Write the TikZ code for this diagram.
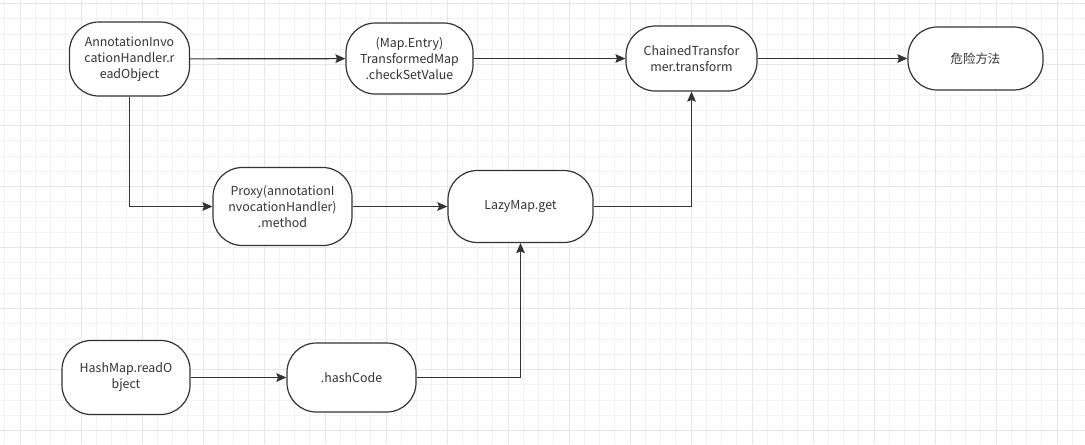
\documentclass[tikz,border=0pt]{standalone}
\usepackage{fontspec}
\setmainfont{Noto Sans CJK SC}
\usetikzlibrary{arrows.meta}
\definecolor{gminor}{HTML}{F2F2F2}
\definecolor{gmajor}{HTML}{E6E6E6}
\definecolor{ink}{HTML}{333333}
\tikzset{
  minorline/.style={draw=gminor, line width=0.75pt},
  majorline/.style={draw=gmajor, line width=0.75pt},
  boxnode/.style={draw=ink, line width=0.9pt, rounded corners=22pt, inner sep=0pt,
    align=center, text=ink, font=\fontsize{9.3}{12}\selectfont, fill=white},
  arr/.style={draw=ink, line width=0.9pt, -{Stealth[length=7.5pt,width=6.5pt,inset=1.2pt]}}
}
\begin{document}
\begin{tikzpicture}[x=0.75pt,y=-0.75pt]
\useasboundingbox (0,0) rectangle (1085,444);
\fill[white] (0,0) rectangle (1085,444);
% grid
\foreach \m in {0,...,70} {\pgfmathsetmacro\xx{4.75+15.25*\m}\draw[minorline] (\xx,0) -- (\xx,444);}
\foreach \m in {0,...,28} {\pgfmathsetmacro\yy{3.5+15.25*\m}\draw[minorline] (0,\yy) -- (1085,\yy);}
\foreach \m in {0,...,17} {\pgfmathsetmacro\xx{20+61*\m}\draw[majorline] (\xx,0) -- (\xx,444);}
\foreach \m in {0,...,7} {\pgfmathsetmacro\yy{3.5+61*\m}\draw[majorline] (0,\yy) -- (1085,\yy);}
% nodes
\node[boxnode, minimum width=120*0.75pt, minimum height=74*0.75pt] (n1) at (129.5,59) {AnnotationInvo\\cationHandler.r\\eadObject};
\node[boxnode, minimum width=127*0.75pt, minimum height=71*0.75pt] (n2) at (409.5,58.5) {(Map.Entry)\\TransformedMap\\.checkSetValue};
\node[boxnode, minimum width=131*0.75pt, minimum height=65*0.75pt] (n3) at (691.5,58.5) {ChainedTransfor\\mer.transform};
\node[boxnode, minimum width=135*0.75pt, minimum height=63*0.75pt] (n4) at (975.5,58.5) {危险方法};
\node[boxnode, minimum width=139*0.75pt, minimum height=78*0.75pt] (n5) at (282.5,206.5) {Proxy(annotationI\\nvocationHandler)\\.method};
\node[boxnode, minimum width=145*0.75pt, minimum height=72*0.75pt] (n6) at (520.5,206.5) {LazyMap.get};
\node[boxnode, minimum width=128*0.75pt, minimum height=74*0.75pt] (n7) at (126,377.5) {HashMap.readO\\bject};
\node[boxnode, minimum width=129*0.75pt, minimum height=69*0.75pt] (n8) at (351.5,377.5) {.hashCode};
% connectors
\draw[arr] (n1) -- (n2);
\draw[arr] (n2) -- (n3);
\draw[arr] (n3) -- (n4);
\draw[arr] (n1.south) |- (n5.west);
\draw[arr] (n5) -- (n6);
\draw[arr] (n6.east) -| (n3.south);
\draw[arr] (n7) -- (n8);
\draw[arr] (n8.east) -| (n6.south);
\end{tikzpicture}
\end{document}
